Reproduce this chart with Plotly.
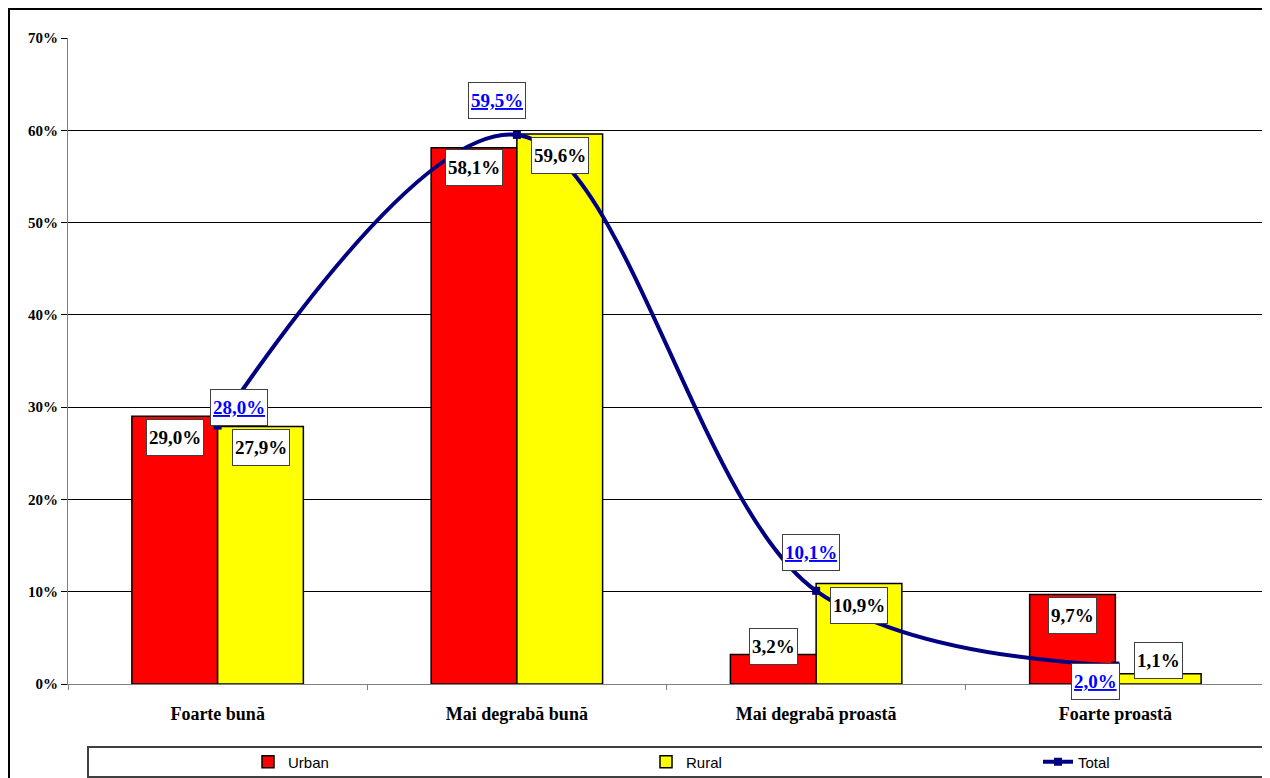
import plotly.graph_objects as go

categories = ["Foarte bună", "Mai degrabă bună", "Mai degrabă proastă", "Foarte proastă"]
urban = [29.0, 58.1, 3.2, 9.7]
rural = [27.9, 59.6, 10.9, 1.1]
total = [28.0, 59.5, 10.1, 2.0]
y_ticks = [0, 10, 20, 30, 40, 50, 60, 70]
y_tick_text = ["0%", "10%", "20%", "30%", "40%", "50%", "60%", "70%"]

# label offsets (pixels)
urban_lbl_dy = [-21, -20, 8, -21]
rural_lbl_dy = [-21, -22, -22, 13]
total_lbl_dx = [21, -20, -5, -20]
total_lbl_dy = [18, 34, 38, -16]

def fmt(v):
    return f"{v:.1f}".replace(".", ",") + "%"

SERIF = "Liberation Serif"
OFF = 8  # page body margin

W, H = 1262, 770
L, T = 68 - OFF, 38 - OFF
R = W - (1265 - OFF)
B = H - (684 - OFF)
pw, ph = W - L - R, H - T - B

def px_x(p):
    return (p - OFF - L) / pw

def px_y(p):
    return (H - B - (p - OFF)) / ph

def cont_y(p):
    return 1 - (p - OFF) / H

fig = go.Figure()
fig.add_trace(go.Bar(x=categories, y=urban, name="Urban", legend="legend",
                     marker=dict(color="#FF0000", line=dict(color="black", width=1.5))))
fig.add_trace(go.Bar(x=categories, y=rural, name="Rural", legend="legend2",
                     marker=dict(color="#FFFF00", line=dict(color="black", width=1.5))))
fig.add_trace(go.Scatter(x=categories, y=total, name="Total", mode="lines+markers", legend="legend3",
                         line=dict(color="#000080", width=4, shape="spline", smoothing=1.0),
                         marker=dict(symbol="square", size=8, color="#000080")))

lbl_common = dict(xref="x", yref="y", showarrow=False, bgcolor="white",
                  bordercolor="#404040", borderwidth=1, borderpad=2, height=31)
ann = []
for i, c in enumerate(categories):
    ann.append(dict(x=c, y=urban[i], text=fmt(urban[i]), xshift=-43, yshift=urban_lbl_dy[i],
                    font=dict(family=SERIF, size=19, color="black", weight="bold"), **lbl_common))
    ann.append(dict(x=c, y=rural[i], text=fmt(rural[i]), xshift=43, yshift=rural_lbl_dy[i],
                    font=dict(family=SERIF, size=19, color="black", weight="bold"), **lbl_common))
    ann.append(dict(x=c, y=total[i], text="<u>" + fmt(total[i]) + "</u>",
                    xshift=total_lbl_dx[i], yshift=total_lbl_dy[i],
                    font=dict(family=SERIF, size=19, color="#0000FF", weight="bold"), **lbl_common))

shapes = [
    dict(type="rect", xref="paper", yref="paper", x0=px_x(9), x1=px_x(1300), y0=px_y(820), y1=px_y(9),
         line=dict(color="black", width=2), fillcolor="rgba(0,0,0,0)", layer="below"),
    dict(type="rect", xref="paper", yref="paper", x0=px_x(88), x1=px_x(1268), y0=px_y(777), y1=px_y(747),
         line=dict(color="#404040", width=2), fillcolor="white", layer="below"),
]

def leg(xpix):
    return dict(orientation="h", x=px_x(xpix), xanchor="left",
                yref="container", y=cont_y(762), yanchor="middle",
                font=dict(family="Liberation Sans", size=15, color="black"),
                bgcolor="rgba(0,0,0,0)", borderwidth=0)

fig.update_layout(
    width=W, height=H,
    margin=dict(l=L, r=R, t=T, b=B, autoexpand=False),
    paper_bgcolor="white", plot_bgcolor="white",
    barmode="group", bargap=0.427, bargroupgap=0,
    annotations=ann, shapes=shapes,
    showlegend=True,
    legend=leg(248), legend2=leg(646), legend3=leg(1038),
    xaxis=dict(type="category", showline=True, linecolor="#808080", linewidth=1,
               ticks="outside", tickson="boundaries", ticklen=5, tickcolor="#808080",
               tickfont=dict(family=SERIF, size=18, color="black", weight="bold"),
               showgrid=False, ticklabelstandoff=13),
    yaxis=dict(range=[0, 70], tickvals=y_ticks, ticktext=y_tick_text, showline=True,
               linecolor="#808080", linewidth=1, ticks="outside", ticklen=6, tickcolor="black",
               showgrid=True, gridcolor="black", gridwidth=1, zeroline=False,
               tickfont=dict(family=SERIF, size=15, color="black", weight="bold")),
)

fig.write_html("out.html")
